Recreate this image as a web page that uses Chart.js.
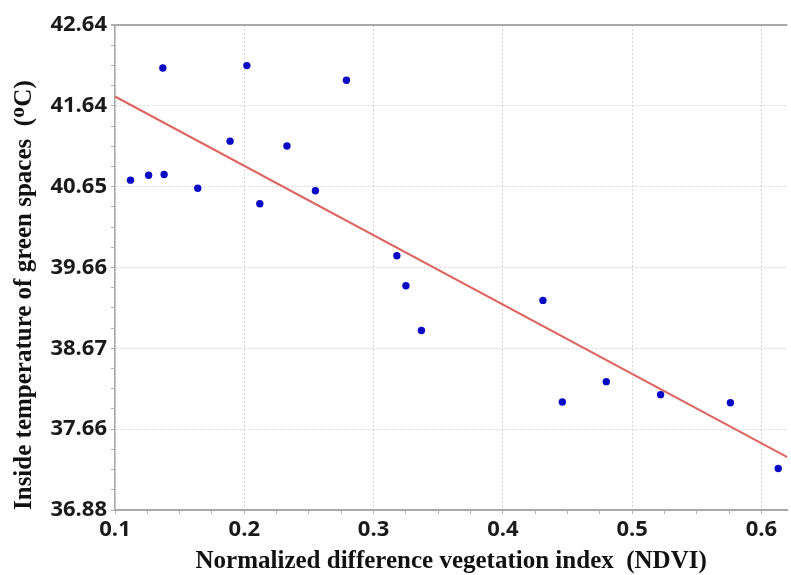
<!DOCTYPE html>
<html>
<head>
<meta charset="utf-8">
<script src="https://cdn.jsdelivr.net/npm/chart.js@4.4.1/dist/chart.umd.min.js"></script>
<style>
    html, body { margin: 0; padding: 0; background: #fff; }
    #wrap { width: 791px; height: 575px; }
</style>
</head>
<body>
<div id="wrap"><canvas id="ndviChart" width="791" height="575"></canvas></div>
<script>
// NDVI of each green space vs. the temperature measured inside it
const ndvi = [0.112, 0.126, 0.138, 0.137, 0.164, 0.189, 0.202, 0.212, 0.233, 0.255,
    0.279, 0.318, 0.325, 0.337, 0.431, 0.446, 0.480, 0.522, 0.576, 0.613];
const temperature = [40.73, 40.79, 40.80, 42.11, 40.63, 41.21, 42.14, 40.44, 41.15, 40.60,
    41.96, 39.80, 39.43, 38.88, 39.25, 38.00, 38.25, 38.09, 37.99, 37.18];

// Fitted line end points
const fitNdvi = [0.1, 0.62];
const fitTemp = [41.76, 37.32];

// Axis labels (y from bottom to top)
const xTickLabels = ['0.1', '0.2', '0.3', '0.4', '0.5', '0.6'];
const yTickLabels = ['36.88', '37.66', '38.67', '39.66', '40.65', '41.64', '42.64'];

const X_MIN = 0.1, X_MAX = 0.62;
const Y_MIN = 36.67, Y_MAX = 42.64;
const MINOR = 4; // sub-divisions between labelled ticks

const points = ndvi.map((x, i) => ({ x: x, y: temperature[i] }));
const fitLine = fitNdvi.map((x, i) => ({ x: x, y: fitTemp[i] }));

const tickFont = { family: '"Open Sans", sans-serif', size: 22, weight: 'bold' };
const titleFont = { family: '"Liberation Serif", "Times New Roman", serif', size: 25, weight: 'bold' };

const isMajor = (c) => c.index % MINOR === 0;
const Y_TOP = (yTickLabels.length - 1) * MINOR;

new Chart(document.getElementById('ndviChart').getContext('2d'), {
    type: 'scatter',
    data: {
        datasets: [
            {
                label: 'Green spaces',
                data: points,
                pointRadius: 3.7,
                pointHoverRadius: 3.7,
                pointBackgroundColor: '#0a0ac4',
                pointBorderWidth: 0,
                order: 1
            },
            {
                label: 'Linear fit',
                type: 'line',
                data: fitLine,
                borderColor: '#de6560',
                borderWidth: 2,
                pointRadius: 0,
                fill: false,
                order: 2
            }
        ]
    },
    options: {
        responsive: false,
        animation: false,
        layout: { padding: { top: 25, right: 0, bottom: 0, left: 0 } },
        plugins: {
            legend: { display: false },
            tooltip: { enabled: false }
        },
        scales: {
            x: {
                type: 'linear',
                min: X_MIN,
                max: X_MAX,
                afterBuildTicks: (scale) => {
                    const ticks = [];
                    for (let i = 0; i <= (xTickLabels.length - 1) * MINOR; i++) {
                        ticks.push({ value: X_MIN + i * 0.1 / MINOR });
                    }
                    scale.ticks = ticks;
                },
                afterFit: (scale) => { scale.height = 65; },
                ticks: {
                    autoSkip: false,
                    maxRotation: 0,
                    padding: 3,
                    color: '#1a1a1a',
                    font: tickFont,
                    callback: (v, i) => (i % MINOR === 0 ? xTickLabels[i / MINOR] : '')
                },
                grid: {
                    color: (c) => (isMajor(c) ? '#d4d4d4' : 'rgba(0,0,0,0)'),
                    lineWidth: 1,
                    tickLength: 4,
                    tickColor: '#b0b0b0',
                    tickBorderDash: []
                },
                border: { display: true, color: '#a8a8a8', width: 2, dash: [2, 2] },
                title: {
                    display: true,
                    text: 'Normalized difference vegetation index  (NDVI)',
                    color: '#111',
                    font: titleFont,
                    padding: { top: 0, bottom: -2 }
                }
            },
            y: {
                type: 'linear',
                min: Y_MIN,
                max: Y_MAX,
                afterBuildTicks: (scale) => {
                    const ticks = [];
                    for (let i = 0; i <= Y_TOP; i++) {
                        ticks.push({ value: Y_MIN + i * (Y_MAX - Y_MIN) / Y_TOP });
                    }
                    scale.ticks = ticks;
                },
                afterFit: (scale) => { scale.width = 115; },
                ticks: {
                    autoSkip: false,
                    padding: 4,
                    color: '#1a1a1a',
                    font: tickFont,
                    callback: (v, i) => (i % MINOR === 0 ? yTickLabels[i / MINOR] : '')
                },
                grid: {
                    color: (c) => {
                        if (c.index === Y_TOP) return '#a8a8a8';
                        return isMajor(c) ? '#d4d4d4' : 'rgba(0,0,0,0)';
                    },
                    lineWidth: (c) => (c.index === Y_TOP ? 2 : 1),
                    tickLength: 4,
                    tickColor: '#b0b0b0',
                    tickBorderDash: []
                },
                border: {
                    display: true,
                    color: '#a8a8a8',
                    width: 1.5,
                    dash: (c) => (c.index === Y_TOP ? [] : [2, 2])
                },
                title: {
                    display: true,
                    text: 'Inside temperature of green spaces  (ᴼC)',
                    align: 'start',
                    color: '#111',
                    font: titleFont,
                    padding: { top: 10, bottom: 0 }
                }
            }
        }
    }
});
</script>
</body>
</html>
